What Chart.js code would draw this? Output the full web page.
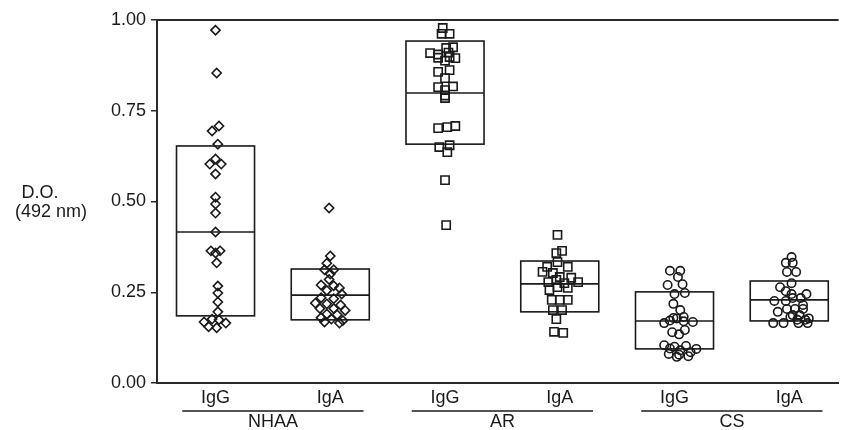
<!DOCTYPE html>
<html>
<head>
<meta charset="utf-8">
<script src="https://cdn.jsdelivr.net/npm/chart.js@4.4.0/dist/chart.umd.min.js"></script>
<style>
  html, body { margin: 0; padding: 0; background: #fff; }
</style>
</head>
<body>
<canvas id="canvas" width="846" height="430"></canvas>
<script>
// groups and isotypes along the x axis
var groups = ['NHAA', 'AR', 'CS'];
var isotypes = ['IgG', 'IgA', 'IgG', 'IgA', 'IgG', 'IgA'];
var yTicks = [0, 0.25, 0.5, 0.75, 1];

// box: lower quartile, median, upper quartile (per isotype column)
var boxLow    = [0.185, 0.174, 0.658, 0.196, 0.094, 0.171];
var boxMedian = [0.416, 0.242, 0.799, 0.273, 0.171, 0.229];
var boxHigh   = [0.653, 0.314, 0.942, 0.336, 0.251, 0.281];

// individual D.O. values, with the sideways spread
var nhaaIgG = [0.972,0.854,0.708,0.694,0.658,0.617,0.603,0.603,0.576,0.512,0.493,0.468,0.416,0.364,0.364,0.358,0.331,0.267,0.248,0.223,0.196,0.176,0.174,0.168,0.165,0.155,0.152];
var nhaaIgGSpread = [0,0.01,0.03,-0.03,0.02,0,-0.05,0.05,0,0,0,0,0,-0.04,0.04,0,0.01,0.02,0.02,0.02,0.02,-0.03,0.03,-0.1,0.09,-0.06,0.01];

var nhaaIgA = [0.482,0.350,0.330,0.312,0.312,0.300,0.285,0.270,0.268,0.262,0.255,0.245,0.235,0.232,0.220,0.218,0.215,0.205,0.205,0.200,0.190,0.188,0.180,0.176,0.172,0.168,0.165];
var nhaaIgASpread = [-0.01,0,-0.03,-0.05,0.03,0,-0.01,-0.08,0.03,0.08,-0.03,0.1,-0.08,0.03,-0.13,-0.03,0.09,-0.09,0.03,0.13,-0.03,0.06,-0.08,0.01,0.11,-0.05,0.08];

var arIgG = [0.978,0.962,0.962,0.925,0.923,0.910,0.909,0.905,0.898,0.896,0.895,0.888,0.862,0.857,0.840,0.817,0.815,0.807,0.792,0.785,0.708,0.705,0.702,0.655,0.650,0.636,0.559,0.435];
var arIgGSpread = [-0.02,-0.03,0.04,0.07,0.01,0.03,-0.13,-0.06,0.04,-0.06,0.09,0,0.04,-0.06,0,0.07,-0.06,0,0,0,0.09,0.02,-0.06,0.04,-0.05,0.02,0,0.01];

var arIgA = [0.408,0.364,0.358,0.333,0.320,0.320,0.306,0.303,0.292,0.290,0.284,0.278,0.278,0.275,0.264,0.262,0.256,0.229,0.229,0.229,0.201,0.201,0.176,0.141,0.138];
var arIgASpread = [-0.02,0.02,-0.03,-0.02,-0.11,0.07,-0.15,-0.06,0,0.1,-0.03,-0.1,0.16,0.04,-0.02,0.07,-0.09,-0.07,0,0.07,-0.06,0.02,-0.03,-0.05,0.03];

var csIgG = [0.309,0.309,0.292,0.272,0.270,0.248,0.245,0.218,0.201,0.182,0.179,0.178,0.172,0.170,0.168,0.165,0.146,0.140,0.134,0.104,0.102,0.100,0.095,0.094,0.090,0.085,0.080,0.078,0.074,0.072];
var csIgGSpread = [-0.04,0.05,0.03,0.07,-0.06,0.09,0,-0.01,0.05,0.08,-0.01,0.02,-0.04,0.08,0.16,-0.09,0.09,-0.02,0.04,-0.09,0.1,0,-0.04,0.19,0.05,0.14,-0.05,0.04,0.12,0.02];

var csIgA = [0.347,0.331,0.331,0.306,0.306,0.275,0.264,0.253,0.245,0.245,0.234,0.234,0.226,0.226,0.215,0.204,0.204,0.204,0.196,0.187,0.187,0.182,0.178,0.174,0.174,0.165,0.165,0.165,0.165];
var csIgASpread = [0.02,-0.03,0.03,-0.02,0.06,0.02,-0.08,-0.03,0.02,0.15,0.03,0.1,-0.13,-0.03,0.12,-0.02,0.05,0.12,-0.1,0.03,0.09,0.01,0.17,0.07,0.14,-0.14,-0.05,0.08,0.16];

var columns = [
  [nhaaIgG, nhaaIgGSpread],
  [nhaaIgA, nhaaIgASpread],
  [arIgG, arIgGSpread],
  [arIgA, arIgASpread],
  [csIgG, csIgGSpread],
  [csIgA, csIgASpread]
];
var markers = ['rectRot', 'rectRot', 'rect', 'rect', 'circle', 'circle'];
var markerSize = [4.6, 4.6, 5.8, 5.8, 4.2, 4.2];

var ink = '#1a1a1a';
var font = '"Liberation Sans", Arial, sans-serif';
var boxHalf = 0.34;

var datasets = columns.map(function(col, i) {
  return {
    data: col[0].map(function(v, j) { return { x: i + col[1][j], y: v }; }),
    pointStyle: markers[i],
    pointRadius: markerSize[i],
    pointHoverRadius: markerSize[i],
    pointBorderColor: ink,
    pointBackgroundColor: 'rgba(255,255,255,0)',
    pointBorderWidth: 1.6,
    showLine: false
  };
});

var boxes = {
  id: 'boxes',
  beforeDatasetsDraw: function(chart) {
    var ctx = chart.ctx, x = chart.scales.x, y = chart.scales.y;
    ctx.save();
    ctx.strokeStyle = ink;
    ctx.lineWidth = 1.6;
    for (var i = 0; i < boxMedian.length; i++) {
      var l = x.getPixelForValue(i - boxHalf), r = x.getPixelForValue(i + boxHalf);
      var t = y.getPixelForValue(boxHigh[i]), b = y.getPixelForValue(boxLow[i]);
      var m = y.getPixelForValue(boxMedian[i]);
      ctx.strokeRect(l, t, r - l, b - t);
      ctx.beginPath();
      ctx.moveTo(l, m);
      ctx.lineTo(r, m);
      ctx.stroke();
    }
    ctx.restore();
  }
};

var labels = {
  id: 'labels',
  afterDraw: function(chart) {
    var ctx = chart.ctx, x = chart.scales.x, a = chart.chartArea;
    ctx.save();
    ctx.strokeStyle = '#2a2a2a';
    ctx.lineWidth = 2;
    // frame line along the top
    ctx.beginPath();
    ctx.moveTo(a.left - 1, a.top);
    ctx.lineTo(a.right, a.top);
    ctx.stroke();

    ctx.fillStyle = ink;
    ctx.textAlign = 'center';
    ctx.textBaseline = 'middle';
    ctx.font = '18px ' + font;
    isotypes.forEach(function(t, i) {
      ctx.fillText(t, x.getPixelForValue(i), a.bottom + 15);
    });
    ctx.lineWidth = 1.6;
    ctx.strokeStyle = ink;
    groups.forEach(function(g, k) {
      var c = 2 * k + 0.5;
      ctx.beginPath();
      ctx.moveTo(x.getPixelForValue(c - 0.79), a.bottom + 28);
      ctx.lineTo(x.getPixelForValue(c + 0.79), a.bottom + 28);
      ctx.stroke();
      ctx.fillText(g, x.getPixelForValue(c), a.bottom + 39);
    });

    // y axis title, written level
    ctx.fillText('D.O.', 40, 193);
    ctx.fillText('(492 nm)', 51, 212);
    ctx.restore();
  }
};

new Chart(document.getElementById('canvas').getContext('2d'), {
  type: 'scatter',
  data: { datasets: datasets },
  options: {
    responsive: false,
    animation: false,
    layout: { padding: { top: 20, right: 0, left: 0, bottom: 0 } },
    plugins: { legend: { display: false }, tooltip: { enabled: false } },
    scales: {
      x: {
        type: 'linear',
        min: -0.51,
        max: 5.43,
        grid: { display: false },
        border: { display: true, color: '#2a2a2a', width: 2 },
        ticks: { display: false },
        afterFit: function(s) { s.height = 47; }
      },
      y: {
        min: 0,
        max: 1,
        afterBuildTicks: function(s) { s.ticks = yTicks.map(function(v) { return { value: v }; }); },
        grid: { display: true, drawOnChartArea: false, drawTicks: true, tickLength: 6, color: '#2a2a2a', lineWidth: 1.5 },
        border: { display: true, color: '#2a2a2a', width: 2 },
        ticks: {
          color: ink,
          padding: 5,
          font: { family: font, size: 18 },
          callback: function(v) { return v.toFixed(2); }
        },
        afterFit: function(s) { s.width = 157; }
      }
    }
  },
  plugins: [boxes, labels]
});
</script>
</body>
</html>
